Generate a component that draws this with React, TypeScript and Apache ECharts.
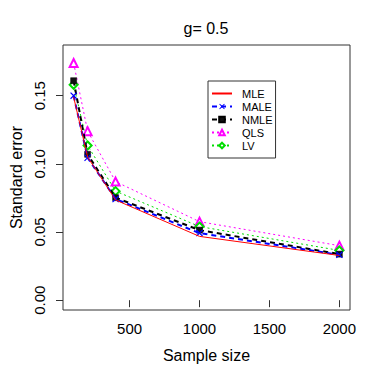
import React, { useEffect, useRef } from "react";
import * as echarts from "echarts";

const sampleSizes = [100, 200, 400, 1000, 2000];
const mle = [0.149, 0.105, 0.0735, 0.0468, 0.0328];
const male = [0.150, 0.1045, 0.0742, 0.0492, 0.0333];
const nmle = [0.161, 0.107, 0.0752, 0.0514, 0.0338];
const qls = [0.174, 0.124, 0.0870, 0.0576, 0.0400];
const lv = [0.158, 0.1135, 0.0800, 0.0540, 0.0365];
const xTicks = [500, 1000, 1500, 2000];
const yTicks = [0, 0.05, 0.1, 0.15];
const seriesNames = ["MLE", "MALE", "NMLE", "QLS", "LV"];

const FONT = "Liberation Sans, Arial, Helvetica, sans-serif";
const crossPath =
  "path://M0,1.2L1.2,0L5,3.8L8.8,0L10,1.2L6.2,5L10,8.8L8.8,10L5,6.2L1.2,10L0,8.8L3.8,5Z";

const toPairs = (ys: number[]) => sampleSizes.map((x, i) => [x, ys[i]]);

export default function App() {
  const ref = useRef<HTMLDivElement>(null);
  useEffect(() => {
    document.body.style.margin = "0";
    if (!ref.current) return;
    const chart = echarts.init(ref.current, null, { renderer: "svg" });
    chart.setOption({
      animation: false,
      backgroundColor: "#fff",
      textStyle: { fontFamily: FONT },
      title: {
        text: "g= 0.5",
        left: 201,
        top: 15,
        textAlign: "center",
        textStyle: { fontFamily: FONT, fontSize: 16, fontWeight: "normal", color: "#000" },
      },
      grid: {
        left: 52,
        right: 27,
        top: 45,
        bottom: 66,
        show: true,
        borderColor: "#333",
        borderWidth: 1,
      },
      legend: {
        orient: "vertical",
        left: 208,
        top: 81,
        padding: [7, 3, 7, 3],
        itemWidth: 20,
        itemHeight: 7,
        itemGap: 2,
        borderColor: "#333",
        borderWidth: 1,
        backgroundColor: "#fff",
        formatter: (n: string) => "{t|" + n + "}",
        textStyle: {
          fontFamily: FONT,
          fontSize: 11,
          lineHeight: 11,
          color: "#000",
          rich: {
            t: {
              fontFamily: FONT,
              fontSize: 11,
              lineHeight: 11,
              color: "#000",
              padding: [0, 0, 0, 5],
            },
          },
        },
        data: seriesNames.map((n) =>
          n === "MLE" ? { name: n, itemStyle: { opacity: 0 } } : { name: n }
        ),
      },
      xAxis: {
        type: "value",
        min: 24,
        max: 2076,
        name: "Sample size",
        nameLocation: "middle",
        nameGap: 37,
        nameTextStyle: { fontFamily: FONT, fontSize: 16, color: "#000" },
        axisLine: { show: false },
        splitLine: { show: false },
        axisTick: {
          show: true,
          inside: false,
          length: 7,
          customValues: xTicks,
          lineStyle: { color: "#333" },
        },
        axisLabel: {
          customValues: xTicks,
          margin: 11,
          fontFamily: FONT,
          fontSize: 15,
          color: "#000",
          formatter: (v: number) => String(v),
        },
      },
      yAxis: {
        type: "value",
        min: -0.0072,
        max: 0.1872,
        name: "Standard error",
        nameLocation: "middle",
        nameGap: 39,
        nameTextStyle: { fontFamily: FONT, fontSize: 16, color: "#000" },
        axisLine: { show: false },
        splitLine: { show: false },
        axisTick: {
          show: true,
          inside: false,
          length: 7,
          customValues: yTicks,
          lineStyle: { color: "#333" },
        },
        axisLabel: {
          customValues: yTicks,
          rotate: 90,
          margin: 16,
          fontFamily: FONT,
          fontSize: 15,
          color: "#000",
          formatter: (v: number) => v.toFixed(2),
        },
      },
      series: [
        {
          name: "MLE",
          type: "line",
          data: toPairs(mle),
          symbol: "none",
          lineStyle: { color: "#ff0000", width: 1, type: "solid" },
          itemStyle: { color: "#ff0000" },
          z: 6,
        },
        {
          name: "MALE",
          type: "line",
          data: toPairs(male),
          symbol: crossPath,
          symbolSize: 7,
          lineStyle: { color: "#0000ff", width: 2, type: [5, 4] },
          itemStyle: { color: "#0000ff" },
          z: 5,
        },
        {
          name: "NMLE",
          type: "line",
          data: toPairs(nmle),
          symbol: "rect",
          symbolSize: 6,
          lineStyle: { color: "#000000", width: 2, type: [5, 4] },
          itemStyle: { color: "#111111", borderColor: "#000", borderWidth: 0.5 },
          z: 4,
        },
        {
          name: "QLS",
          type: "line",
          data: toPairs(qls),
          symbol: "emptyTriangle",
          symbolSize: 8,
          lineStyle: { color: "#ff00ff", width: 1, type: [2, 3] },
          itemStyle: { color: "#ff00ff", borderWidth: 0.8 },
          z: 3,
        },
        {
          name: "LV",
          type: "line",
          data: toPairs(lv),
          symbol: "emptyDiamond",
          symbolSize: 8,
          lineStyle: { color: "#00dd00", width: 1, type: [2, 3] },
          itemStyle: { color: "#00dd00", borderWidth: 0.8 },
          z: 3,
        },
      ],
    });
    return () => chart.dispose();
  }, []);
  return <div ref={ref} style={{ width: 377, height: 376 }} />;
}
